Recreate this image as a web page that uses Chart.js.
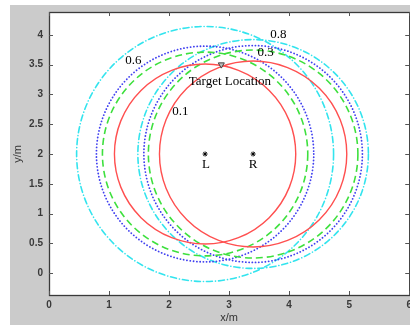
<!DOCTYPE html>
<html>
<head>
<meta charset="utf-8">
<script src="https://cdn.jsdelivr.net/npm/chart.js@4/dist/chart.umd.min.js"></script>
<style>
  html, body { margin: 0; padding: 0; overflow: hidden; background: #fff; }
  canvas { display: block; }
</style>
</head>
<body>
<canvas id="c" width="416" height="327" style="width:416px;height:327px"></canvas>
<script>
// ---- data ----
const noiseLevels   = ['0.1', '0.3', '0.6', '0.8'];
const sensorNames   = ['L', 'R'];
const sensorX       = [2.6, 3.4];
const sensorY       = [2.0, 2.0];
const radiusFromL   = [1.51, 1.71, 1.81, 2.14];
const radiusFromR   = [1.56, 1.745, 1.82, 1.92];
const targetX       = [2.87];
const targetY       = [3.50];
const noteTexts     = ['0.8', '0.3', '0.6', '0.1', 'Target Location', 'L', 'R'];
const noteX         = [3.82, 3.61, 1.405, 2.19, 3.013, 2.614, 3.40];
const noteY         = [4.005, 3.698, 3.561, 2.712, 3.211, 1.82, 1.82];
const xTicks        = [0, 1, 2, 3, 4, 5, 6];
const yTicks        = [0, 0.5, 1, 1.5, 2, 2.5, 3, 3.5, 4];

// ---- styles ----
const seriesColors = ['#ff5050', '#3ee03e', '#4040f0', '#33e4ee'];
const seriesDash   = [[], [7, 4], [0.1, 3.2], [6, 3, 0.1, 3]];
const seriesWidth  = [1.4, 1.6, 1.8, 1.6];
const seriesCap    = ['butt', 'butt', 'round', 'round'];

const W = 416, H = 327;
const AREA = { left: 49, top: 6, right: 411, bottom: 295 };

const figurePlugin = {
  id: 'figure',
  beforeDraw(chart) {
    const ctx = chart.ctx;
    ctx.save();
    ctx.fillStyle = '#ffffff';
    ctx.fillRect(0, 0, W, H);
    ctx.fillStyle = '#cbcbcb';
    ctx.fillRect(10, 5, W - 10, 320);
    const a = chart.chartArea;
    ctx.fillStyle = '#ffffff';
    ctx.fillRect(a.left, a.top, a.right - a.left, a.bottom - a.top);
    ctx.restore();
  },
  beforeDatasetsDraw(chart) {
    const ctx = chart.ctx, xs = chart.scales.x, ys = chart.scales.y, a = chart.chartArea;
    ctx.save();
    ctx.beginPath();
    ctx.rect(a.left, a.top, a.right - a.left, a.bottom - a.top);
    ctx.clip();
    const pxX = Math.abs(xs.getPixelForValue(1) - xs.getPixelForValue(0));
    const pxY = Math.abs(ys.getPixelForValue(1) - ys.getPixelForValue(0));
    for (let i = noiseLevels.length - 1; i >= 0; i--) {
      const radii = [radiusFromL[i], radiusFromR[i]];
      for (let s = 0; s < sensorX.length; s++) {
        ctx.strokeStyle = seriesColors[i];
        ctx.lineWidth = seriesWidth[i];
        ctx.lineCap = seriesCap[i];
        ctx.setLineDash(seriesDash[i]);
        ctx.beginPath();
        ctx.ellipse(xs.getPixelForValue(sensorX[s]), ys.getPixelForValue(sensorY[s]),
                    radii[s] * pxX, radii[s] * pxY, 0, 0, Math.PI * 2);
        ctx.stroke();
      }
    }
    ctx.restore();
  },
  afterDraw(chart) {
    const ctx = chart.ctx, xs = chart.scales.x, ys = chart.scales.y, a = chart.chartArea;
    ctx.save();
    // frame
    ctx.strokeStyle = '#3a3a3a';
    ctx.lineWidth = 1.3;
    ctx.strokeRect(a.left + 0.5, a.top + 0.5, a.right - a.left, a.bottom - a.top);
    // inward ticks
    ctx.lineWidth = 1;
    ctx.strokeStyle = '#555';
    const tl = 4;
    xTicks.forEach(v => {
      const x = Math.round(xs.getPixelForValue(v)) + 0.5;
      ctx.beginPath();
      ctx.moveTo(x, a.bottom); ctx.lineTo(x, a.bottom - tl);
      ctx.moveTo(x, a.top); ctx.lineTo(x, a.top + tl);
      ctx.stroke();
    });
    yTicks.forEach(v => {
      const y = Math.round(ys.getPixelForValue(v)) + 0.5;
      ctx.beginPath();
      ctx.moveTo(a.left, y); ctx.lineTo(a.left + tl, y);
      ctx.moveTo(a.right, y); ctx.lineTo(a.right - tl, y);
      ctx.stroke();
    });
    // axis titles
    ctx.fillStyle = '#333';
    ctx.font = '11px "Liberation Sans", Arial, sans-serif';
    ctx.textAlign = 'center';
    ctx.textBaseline = 'middle';
    ctx.fillText('x/m', xs.getPixelForValue(3), 318);
    ctx.save();
    ctx.translate(18, ys.getPixelForValue(2));
    ctx.rotate(-Math.PI / 2);
    ctx.fillText('y/m', 0, 0);
    ctx.restore();
    // annotations
    ctx.fillStyle = '#000';
    ctx.font = '13px "Liberation Serif", "Times New Roman", serif';
    for (let i = 0; i < noteTexts.length; i++) {
      ctx.fillText(noteTexts[i], xs.getPixelForValue(noteX[i]), ys.getPixelForValue(noteY[i]));
    }
    ctx.restore();
  }
};

const tickFont = { family: '"Liberation Sans", Arial, sans-serif', size: 10, weight: 'bold' };

new Chart(document.getElementById('c'), {
  type: 'scatter',
  data: {
    datasets: [
      {
        label: 'sensors',
        data: sensorX.map((x, i) => ({ x, y: sensorY[i] })),
        pointStyle: 'star',
        radius: 2.5,
        borderColor: '#000',
        backgroundColor: '#000',
        borderWidth: 1
      },
      {
        label: 'target',
        data: targetX.map((x, i) => ({ x, y: targetY[i] })),
        pointStyle: 'triangle',
        rotation: 180,
        radius: 3.5,
        borderColor: '#444',
        backgroundColor: '#bdbdbd',
        borderWidth: 1
      }
    ]
  },
  options: {
    responsive: false,
    animation: false,
    devicePixelRatio: 1,
    layout: { padding: { left: 0, top: AREA.top, right: W - AREA.right, bottom: 0 } },
    plugins: { legend: { display: false }, tooltip: { enabled: false } },
    scales: {
      x: {
        type: 'linear', min: 0, max: 6,
        afterBuildTicks: s => { s.ticks = xTicks.map(v => ({ value: v })); },
        afterFit: s => { s.height = H - AREA.bottom; },
        grid: { display: false, drawTicks: false },
        border: { display: false },
        ticks: { font: tickFont, color: '#3a3a3a', padding: 4, callback: v => String(v) }
      },
      y: {
        type: 'linear', min: -0.366, max: 4.383,
        afterBuildTicks: s => { s.ticks = yTicks.map(v => ({ value: v })); },
        afterFit: s => { s.width = AREA.left; },
        grid: { display: false, drawTicks: false },
        border: { display: false },
        ticks: { font: tickFont, color: '#3a3a3a', padding: 6, callback: v => String(v) }
      }
    }
  },
  plugins: [figurePlugin]
});
</script>
</body>
</html>
